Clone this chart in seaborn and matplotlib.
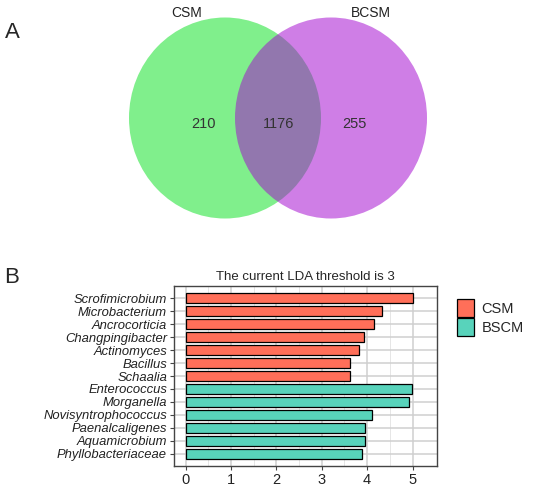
import numpy as np
import pandas as pd
import seaborn as sns
import matplotlib
matplotlib.use("Agg")
from matplotlib import pyplot as plt
from matplotlib.patches import Ellipse

# Venn counts
venn_sets = ["CSM", "BCSM"]
venn_counts = [210, 1176, 255]

# LDA bars
taxa = ["Scrofimicrobium", "Microbacterium", "Ancrocorticia", "Changpingibacter",
        "Actinomyces", "Bacillus", "Schaalia", "Enterococcus", "Morganella",
        "Novisyntrophococcus", "Paenalcaligenes", "Aquamicrobium", "Phyllobacteriaceae"]
lda = [5.01, 4.32, 4.15, 3.93, 3.82, 3.63, 3.62, 4.98, 4.93, 4.10, 3.96, 3.96, 3.88]
group = ["CSM"] * 7 + ["BSCM"] * 6
group_names = ["CSM", "BSCM"]
group_colors = ["#FF6F59", "#58D3BB"]

sns.set_style("white")
plt.rcParams['font.family'] = ['Liberation Sans', 'DejaVu Sans']

fig = plt.figure(figsize=(5.5, 4.9), dpi=100)

# ---- panel A: venn ----
ax1 = fig.add_axes([0, 0, 1, 1])
ax1.set_xlim(0, 550)
ax1.set_ylim(490, 0)
ax1.axis("off")
ax1.add_patch(Ellipse((225, 118), 192, 201, color="#80EF8C", lw=0))
ax1.add_patch(Ellipse((331, 118), 192, 201, color="#A309CF", alpha=0.52, lw=0))
ax1.text(187, 13, venn_sets[0], ha="center", va="center", fontsize=10, color="#222222")
ax1.text(371, 13, venn_sets[1], ha="center", va="center", fontsize=10, color="#222222")
for xx, c in zip([204, 279, 354], venn_counts):
    ax1.text(xx, 124, str(c), ha="center", va="center", fontsize=10.5, color="#333333")
ax1.text(12, 32, "A", ha="center", va="center", fontsize=16)
ax1.text(12, 277, "B", ha="center", va="center", fontsize=16)

# ---- panel B: LDA bars ----
df = pd.DataFrame({"taxa": taxa, "lda": lda, "group": group})
ax2 = fig.add_axes([174 / 550, 24 / 490, 263 / 550, 180 / 490])
sns.barplot(data=df, x="lda", y="taxa", hue="group", hue_order=group_names,
            palette=group_colors, saturation=1, dodge=False, orient="h", width=0.76,
            edgecolor="black", linewidth=0.9, ax=ax2, zorder=3)
ax2.set_xlim(-0.26, 5.54)
ax2.set_ylim(12.95, -0.95)
ax2.set_xticks(range(6))
ax2.set_xticks(np.arange(0.5, 5.5, 1), minor=True)
ax2.grid(True, which="major", color="#CFCFCF", lw=1.1, zorder=0)
ax2.grid(True, which="minor", axis="x", color="#E6E6E6", lw=0.7, zorder=0)
ax2.set_axisbelow(True)
for s in ax2.spines.values():
    s.set_color("#444444")
    s.set_linewidth(1.0)
ax2.tick_params(axis="both", which="major", length=3, color="#444444", width=0.8,
                left=True, bottom=True)
ax2.tick_params(axis="x", labelsize=10.5, labelcolor="#222222", pad=2)
ax2.tick_params(axis="y", labelsize=9.4, labelcolor="#222222", pad=2)
for lab in ax2.get_yticklabels():
    lab.set_style("italic")
ax2.set_xlabel("")
ax2.set_ylabel("")
ax2.set_title("The current LDA threshold is 3", fontsize=9.5, pad=4)

h, l = ax2.get_legend_handles_labels()
ax2.legend(h, l, loc="upper left", bbox_to_anchor=(447 / 550, 1 - 289 / 490),
           bbox_transform=fig.transFigure, frameon=False, fontsize=10.5,
           handlelength=1.15, handleheight=1.55, handletextpad=0.5,
           labelspacing=0.05, borderpad=0.2)

plt.savefig("out.png", dpi=100)
